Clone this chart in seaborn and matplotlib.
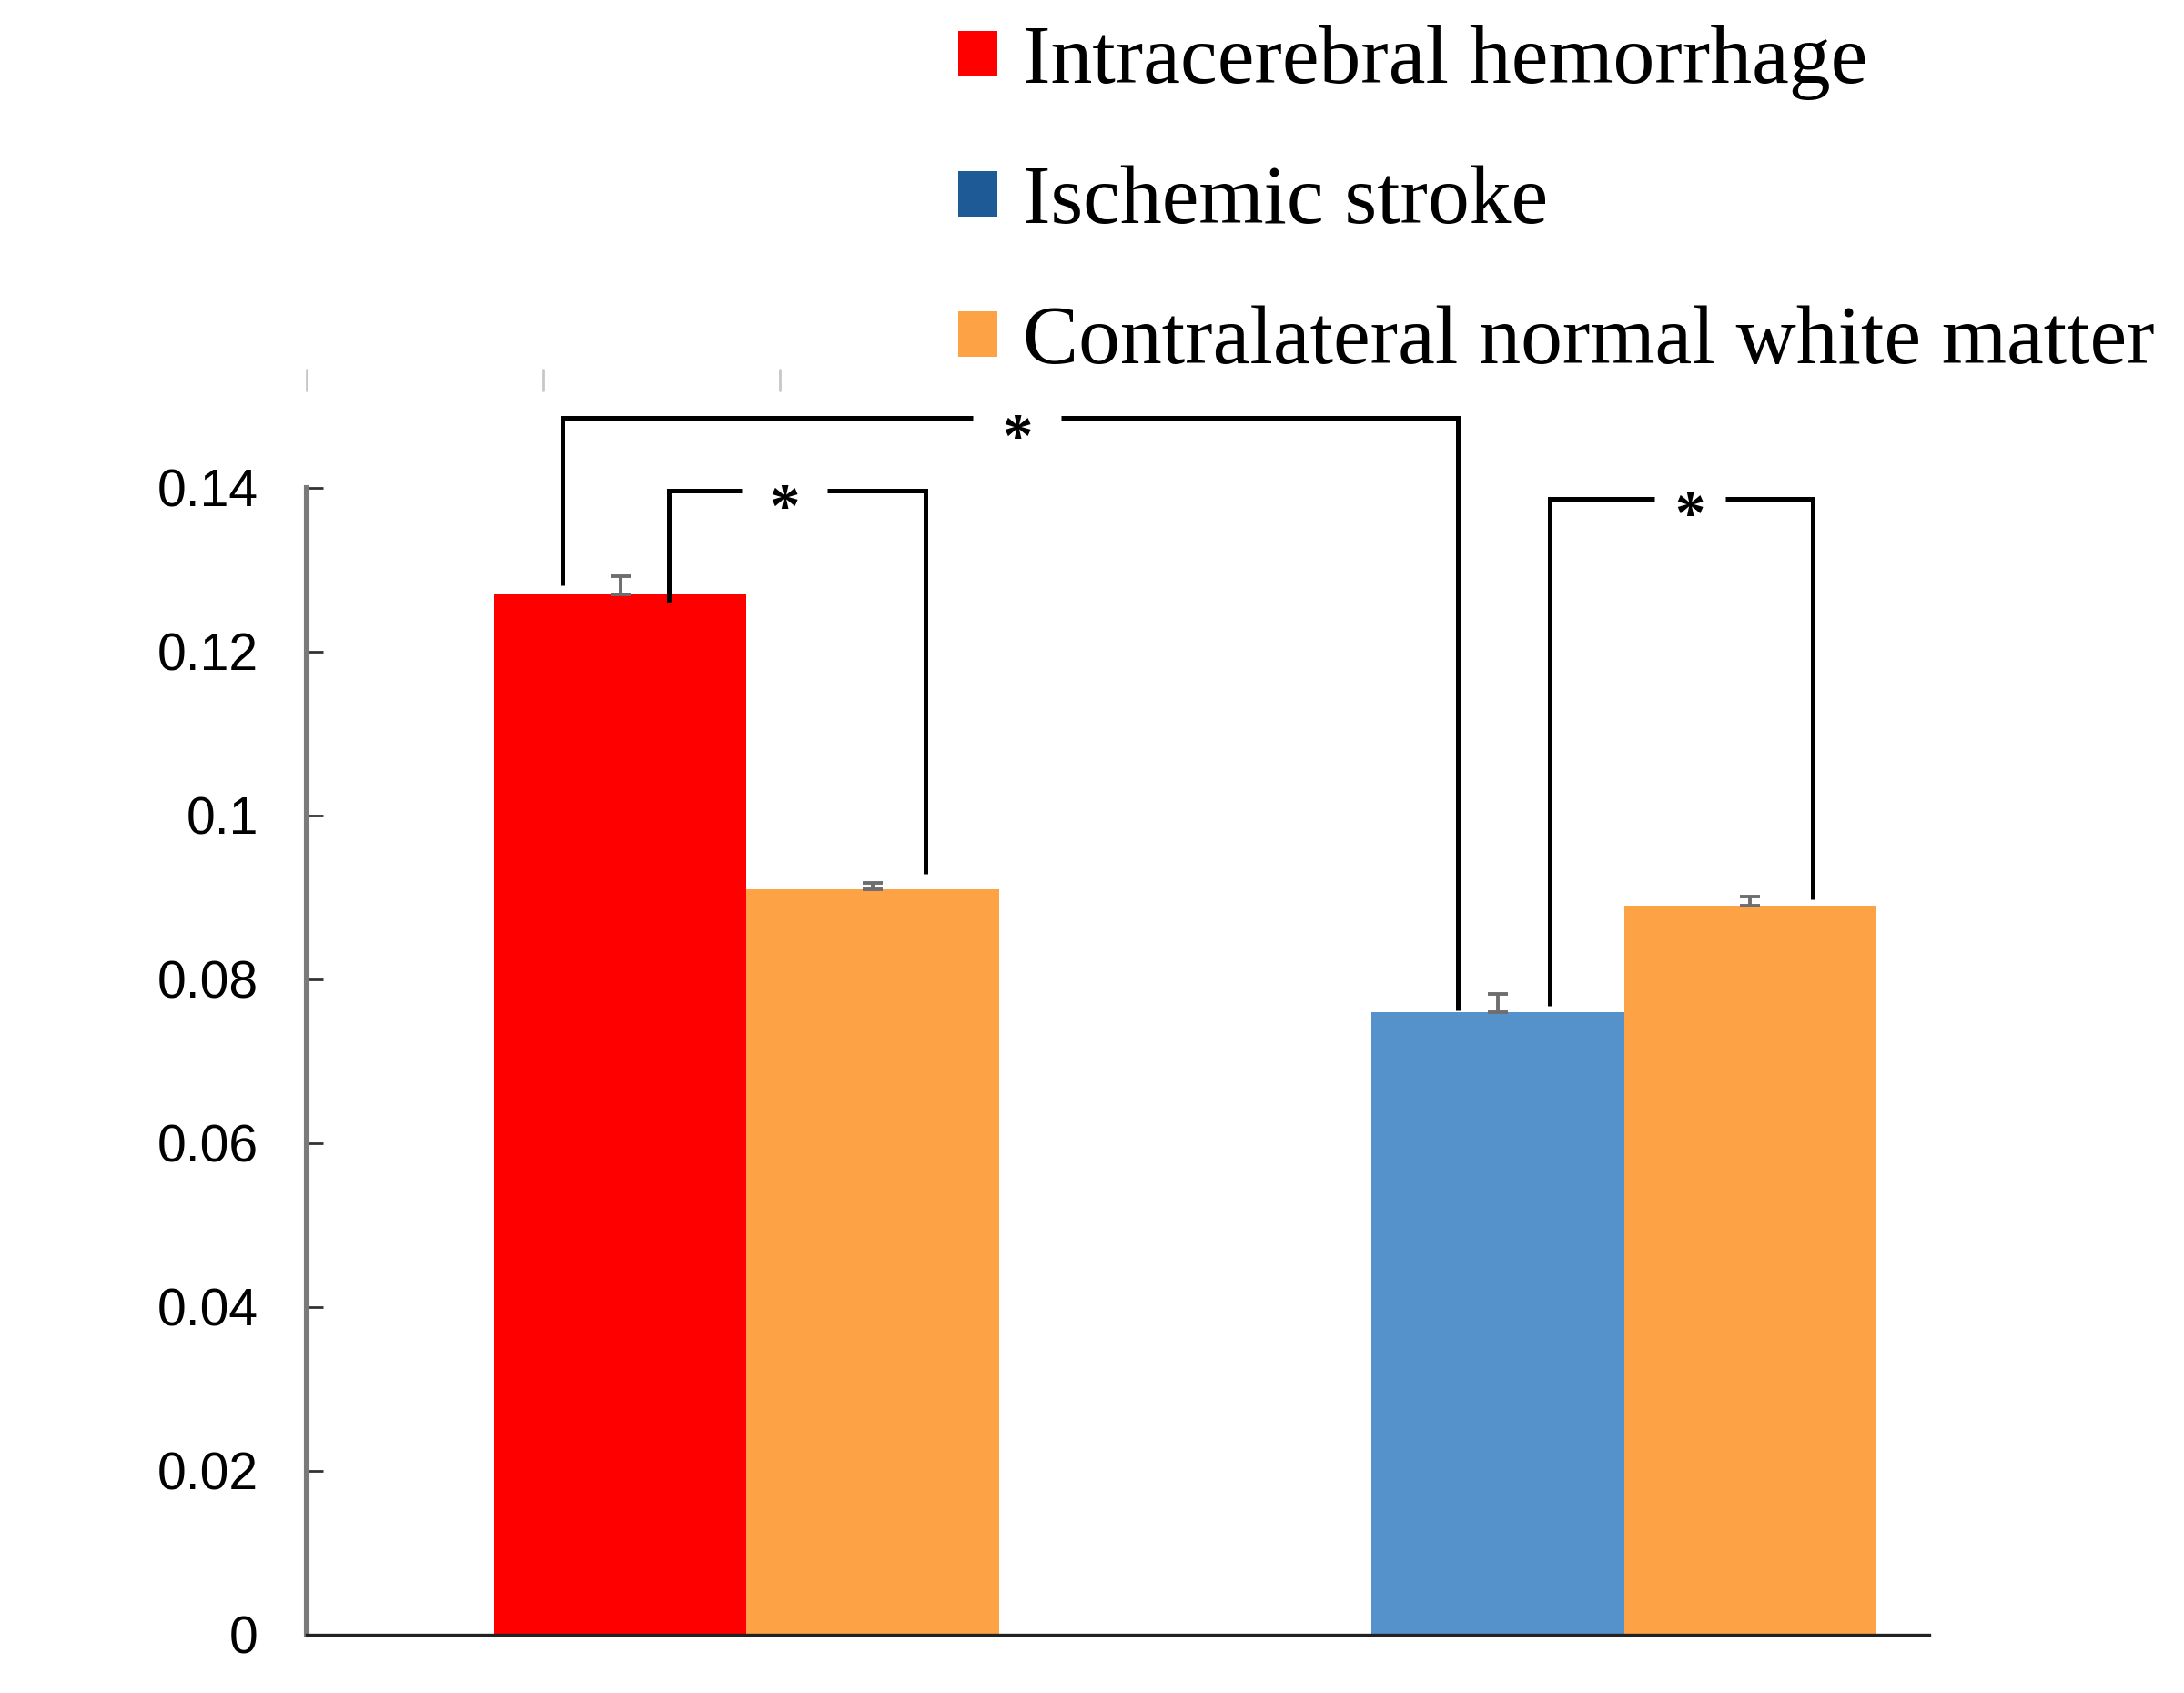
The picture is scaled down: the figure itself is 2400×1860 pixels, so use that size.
import pandas as pd
import numpy as np
import matplotlib.pyplot as plt
import seaborn as sns
from matplotlib.patches import Patch
from matplotlib.lines import Line2D


# bar data, in left-to-right order
groups = ["Intracerebral hemorrhage", "Intracerebral hemorrhage",
          "Ischemic stroke", "Ischemic stroke"]
tissue = ["Lesion", "Contralateral", "Lesion", "Contralateral"]
means = [0.127, 0.091, 0.076, 0.089]
errors = [0.0022, 0.0008, 0.0022, 0.0011]

legend_labels = ["Intracerebral hemorrhage", "Ischemic stroke",
                 "Contralateral normal white matter"]

y_ticks = [0, 0.02, 0.04, 0.06, 0.08, 0.1, 0.12, 0.14]
y_tick_labels = ["0", "0.02", "0.04", "0.06", "0.08", "0.1", "0.12", "0.14"]

RED = "#FF0000"
BLUE = "#5591CB"
BLUE_LEGEND = "#1E5A96"
ORANGE = "#FDA245"


def draw_bracket(ax, x_left, x_right, y_left, y_right, y_top, x_star, gap, star_y):

    kw = dict(color="black", lw=1.8, clip_on=False, solid_capstyle="butt",
              solid_joinstyle="miter")
    ax.plot([x_left, x_left, x_star - gap / 2], [y_left, y_top, y_top], **kw)
    ax.plot([x_star + gap / 2, x_right, x_right], [y_top, y_top, y_right], **kw)
    ax.text(x_star, star_y, "*", ha="center", va="center_baseline",
            fontsize=24, color="black", fontweight="bold",
            family=["Liberation Serif", "DejaVu Serif"])


def main():

    sns.set_style("white")
    plt.rcParams["font.family"] = ["Liberation Sans", "DejaVu Sans"]
    plt.rcParams["text.color"] = "black"

    df = pd.DataFrame({"group": groups, "tissue": tissue, "value": means})

    fig = plt.figure(figsize=(12, 9.3), dpi=200)
    ax = fig.add_axes([0.1403, 0.0346, 0.743, 0.6773])

    sns.barplot(data=df, x="group", y="value", hue="tissue",
                hue_order=["Lesion", "Contralateral"], width=0.575,
                errorbar=None, legend=False, ax=ax, saturation=1)

    bars = sorted(ax.patches, key=lambda p: p.get_x())
    colors = [RED, ORANGE, BLUE, ORANGE]
    centers = []
    for bar, c in zip(bars, colors):
        bar.set_facecolor(c)
        bar.set_edgecolor("none")
        centers.append(bar.get_x() + bar.get_width() / 2)

    ax.errorbar(centers, means, yerr=[np.zeros(len(means)), errors], fmt="none",
                ecolor="#6e6e6e", elinewidth=1.4, capsize=3.8, capthick=1.4)

    ax.set_xlim(-0.5016, 1.3476)
    ax.set_ylim(0, 0.14)
    ax.set_yticks(y_ticks)
    ax.set_yticklabels(y_tick_labels)
    ax.set_xticks([])
    ax.set_xlabel("")
    ax.set_ylabel("")

    ax.tick_params(axis="y", left=True, direction="in", length=6.5, width=1.0,
                   labelsize=20.5, pad=19, colors="#333333", labelcolor="black")

    for side in ["top", "right"]:
        ax.spines[side].set_visible(False)
    ax.spines["left"].set_color("#7a7a7a")
    ax.spines["left"].set_linewidth(2.2)
    ax.spines["bottom"].set_color("#222222")
    ax.spines["bottom"].set_linewidth(1.2)

    red_c, or1_c, blue_c, or2_c = centers

    # significance brackets
    draw_bracket(ax, red_c - 0.066, blue_c - 0.046, 0.1281, 0.0762, 0.1485,
                 0.308, 0.10, 0.1466)
    draw_bracket(ax, red_c + 0.055, or1_c + 0.060, 0.1260, 0.0929, 0.1396,
                 0.043, 0.097, 0.1380)
    draw_bracket(ax, blue_c + 0.059, or2_c + 0.071, 0.0767, 0.0898, 0.1386,
                 1.075, 0.080, 0.1372)

    # faint tick marks above the plot
    for fx in [0.1403, 0.2487, 0.3571]:
        fig.add_artist(Line2D([fx, fx], [0.7695, 0.7819], color="#c8c8c8", lw=1.0))

    handles = [Patch(facecolor=RED, edgecolor="none"),
               Patch(facecolor=BLUE_LEGEND, edgecolor="none"),
               Patch(facecolor=ORANGE, edgecolor="none")]
    fig.legend(handles, legend_labels, loc="upper left",
               bbox_to_anchor=(0.4388, 0.985), frameon=False, labelcolor="black",
               prop={"family": ["Liberation Serif", "DejaVu Serif"], "size": 33},
               handlelength=0.47, handleheight=0.47, handletextpad=0.3,
               labelspacing=0.78, borderpad=0, borderaxespad=0)

    fig.savefig("out.png", dpi=200, facecolor="white")
    plt.close(fig)


if __name__ == "__main__":
    main()
